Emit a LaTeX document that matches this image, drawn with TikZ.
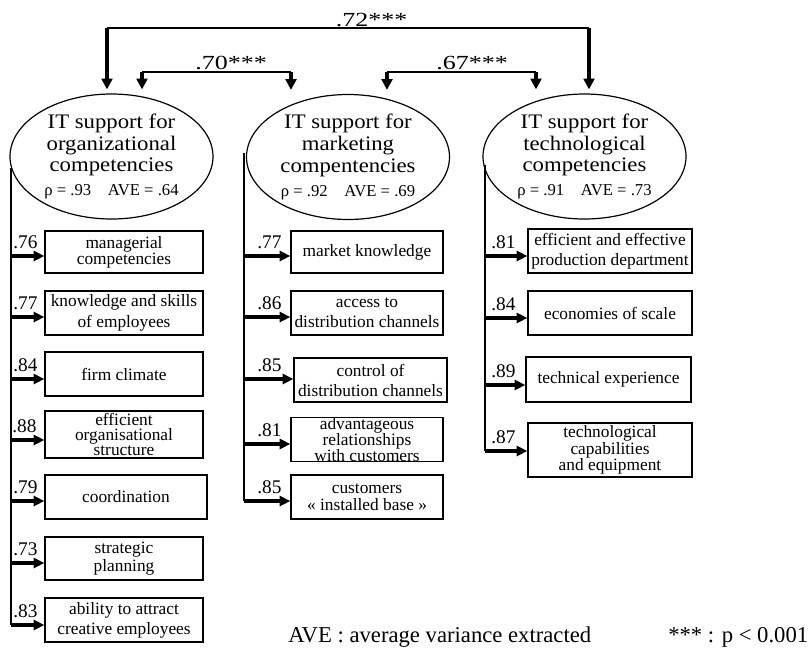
\documentclass[tikz,border=0pt]{standalone}
\usepackage{fontspec}
\setmainfont{Liberation Serif}
\newfontfamily\widefont[FakeStretch=1.3]{Liberation Serif}
\newfontfamily\constructfont[FakeStretch=1.1]{Liberation Serif}
\usetikzlibrary{shapes.geometric,arrows.meta,calc}

% small line with reliability and AVE under each construct
\newcommand\rholine{\rmfamily\fontsize{12.5}{13}\selectfont}

% loading arrow: #1 spine x, #2 arrow y, #3 indicator node, #4 label x, #5 loading
\newcommand\ldarrow[5]{%
  \coordinate (#3-src) at (#1,#2);
  \draw[loadarrow] (#3-src) -- (#3-src -| #3.west);
  \node[loading] (#3-lbl) at (#4,#2-7.5) {#5};
}

\begin{document}
\begin{tikzpicture}[x=0.75pt,y=-0.75pt,
  thinline/.style={line width=1.1pt},
  loadarrow/.style={line width=2.4pt,-{Triangle[length=8pt,width=7.5pt]}},
  corrarrow/.style={line width=2.4pt,-{Triangle[length=8pt,width=8pt]}},
  construct/.style={ellipse,draw,line width=0.9pt,inner sep=0pt,
    minimum width=152.25pt,minimum height=93.75pt,align=center,
    font=\constructfont\fontsize{15.5}{16.3}\selectfont},
  indicator/.style={draw,line width=1pt,inner sep=0pt,align=center,
    font=\fontsize{13}{15}\selectfont},
  loading/.style={anchor=base west,inner sep=0pt,font=\fontsize{14.5}{14.5}\selectfont},
  corrlabel/.style={anchor=base,inner sep=0pt,font=\widefont\fontsize{15}{15}\selectfont},
  legend/.style={anchor=base west,inner sep=0pt,font=\fontsize{17}{17}\selectfont},
]
\useasboundingbox (0,0) rectangle (811,658);

% constructs
\node[construct] (org) at (111.5,156.5)
  {IT support for\\organizational\\competencies\\[1.5pt]{\rholine ρ = .93\quad AVE = .64}};
\node[construct] (mkt) at (348,157)
  {IT support for\\marketing\\compentencies\\[1.5pt]{\rholine ρ = .92\quad AVE = .69}};
\node[construct] (tech) at (584.5,156.5)
  {IT support for\\technological\\competencies\\[1.5pt]{\rholine ρ = .91\quad AVE = .73}};

% correlations between constructs
\coordinate (k72l) at (107,28);  \coordinate (k72r) at (589,28);
\coordinate (k70l) at (142,72);  \coordinate (k70r) at (291,72);
\coordinate (k67l) at (387,72);  \coordinate (k67r) at (536,72);
\draw[thinline] (k72l) -- (k72r);
\draw[thinline] (k70l) -- (k70r);
\draw[thinline] (k67l) -- (k67r);
\draw[corrarrow] (k72l) -- ($(k72l |- org.north)+(0,-4)$);
\draw[corrarrow] (k72r) -- ($(k72r |- tech.north)+(0,-4)$);
\draw[corrarrow] (k70l) -- ($(k70l |- org.north)+(0,-4)$);
\draw[corrarrow] (k70r) -- ($(k70r |- mkt.north)+(0,-4)$);
\draw[corrarrow] (k67l) -- ($(k67l |- mkt.north)+(0,-4)$);
\draw[corrarrow] (k67r) -- ($(k67r |- tech.north)+(0,-4)$);
\node[corrlabel] (r72) at (371.5,26) {.72***};
\node[corrlabel] (r70) at (231,69) {.70***};
\node[corrlabel] (r67) at (472,69) {.67***};

% organizational indicators
\node[indicator,minimum width=118.5pt,minimum height=31.5pt,font=\fontsize{13}{12}\selectfont]
  (mgr) at (124,252) {managerial\\competencies};
\node[indicator,minimum width=118.5pt,minimum height=33pt,font=\fontsize{13}{15.5}\selectfont]
  (know) at (124,313) {knowledge and skills\\of employees};
\node[indicator,minimum width=118.5pt,minimum height=33pt]
  (clim) at (124,374) {firm climate};
\node[indicator,minimum width=118.5pt,minimum height=35.25pt,font=\fontsize{13}{11.5}\selectfont]
  (struct) at (124,434.5) {efficient\\organisational\\structure};
\node[indicator,minimum width=121.5pt,minimum height=33pt]
  (coord) at (126,497) {coordination};
\node[indicator,minimum width=118.5pt,minimum height=32.25pt,font=\fontsize{13}{13.5}\selectfont]
  (plan) at (124,558.5) {strategic\\planning};
\node[indicator,minimum width=118.5pt,minimum height=33pt]
  (attr) at (124,620) {ability to attract\\creative employees};

% marketing indicators
\node[indicator,minimum width=114pt,minimum height=31.5pt]
  (mkn) at (367,252) {market knowledge};
\node[indicator,minimum width=114pt,minimum height=33pt]
  (acc) at (367,313) {access to\\distribution channels};
\node[indicator,minimum width=114.75pt,minimum height=33pt]
  (ctl) at (370.5,380) {control of\\distribution channels};
\node[indicator,minimum width=114pt,minimum height=32.25pt,font=\fontsize{13}{12}\selectfont]
  (rel) at (367,439.5) {advantageous\\relationships\\with customers};
\node[indicator,minimum width=114pt,minimum height=33pt,font=\fontsize{13}{12.5}\selectfont]
  (base) at (367,497) {customers\\« installed base »};

% technological indicators
\node[indicator,minimum width=123pt,minimum height=33pt]
  (prod) at (610,251) {efficient and effective\\production department};
\node[indicator,minimum width=123pt,minimum height=33pt]
  (scale) at (610,313) {economies of scale};
\node[indicator,minimum width=123.75pt,minimum height=33.75pt]
  (exp) at (608.5,379.5) {technical experience};
\node[indicator,minimum width=123pt,minimum height=40.5pt,font=\fontsize{13}{12.5}\selectfont]
  (equip) at (610,450) {technological\\capabilities\\and equipment};

% loadings
\ldarrow{11}{256}{mgr}{13}{.76}
\ldarrow{11}{317}{know}{13}{.77}
\ldarrow{11}{379}{clim}{13}{.84}
\ldarrow{11}{440}{struct}{12}{.88}
\ldarrow{11}{501}{coord}{13}{.79}
\ldarrow{11}{563}{plan}{13}{.73}
\ldarrow{11}{625}{attr}{13}{.83}

\ldarrow{244}{256}{mkn}{257}{.77}
\ldarrow{244}{317}{acc}{257}{.86}
\ldarrow{244}{379}{ctl}{257}{.85}
\ldarrow{244}{444}{rel}{257}{.81}
\ldarrow{244}{501}{base}{257}{.85}

\ldarrow{485}{256}{prod}{491}{.81}
\ldarrow{485}{318}{scale}{491}{.84}
\ldarrow{485}{385}{exp}{491}{.89}
\ldarrow{485}{451}{equip}{491}{.87}

% spines from each construct down to its last indicator
\coordinate (orgspine) at (11,168);
\coordinate (mktspine) at (244,153);
\coordinate (techspine) at (485,165);
\draw[thinline] (orgspine) -- (attr-src);
\draw[thinline] (mktspine) -- (base-src);
\draw[thinline] (techspine) -- (equip-src);

% legend
\node[legend] (ave) at (288,642) {AVE : average variance extracted};
\node[legend] (sig) at (668,642) {*** : p < 0.001};
\end{tikzpicture}
\end{document}
